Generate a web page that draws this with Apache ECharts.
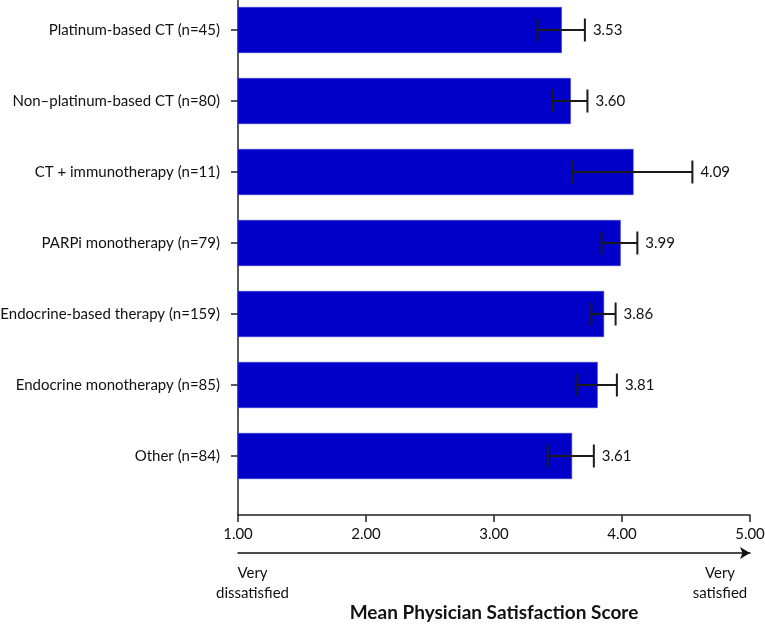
<!DOCTYPE html>
<html>
<head>
<meta charset="utf-8">
<script src="https://cdn.jsdelivr.net/npm/echarts@6/dist/echarts.min.js"></script>
<style>html,body{margin:0;padding:0;background:#fff;}#c{width:765px;height:624px;}</style>
</head>
<body>
<div id="c"></div>
<script>
var categories = ['Platinum-based CT (n=45)', 'Non\u2013platinum-based CT (n=80)', 'CT + immunotherapy (n=11)', 'PARPi monotherapy (n=79)', 'Endocrine-based therapy (n=159)', 'Endocrine monotherapy (n=85)', 'Other (n=84)'];
var means = [3.53, 3.60, 4.09, 3.99, 3.86, 3.81, 3.61];
var errLow = [3.34, 3.46, 3.61, 3.84, 3.76, 3.65, 3.42];
var errHigh = [3.71, 3.73, 4.55, 4.12, 3.95, 3.96, 3.78];
var xMin = 1, xMax = 5, xStep = 1;
var axisTitle = 'Mean Physician Satisfaction Score';
var lowEndLabel = 'Very\ndissatisfied';
var highEndLabel = 'Very\nsatisfied';

var FONT = 'Lato';
var FS = 15;
var chart = echarts.init(document.getElementById('c'), null, {renderer: 'canvas'});
var errData = categories.map(function (c, i) { return [i, errLow[i], errHigh[i], means[i]]; });

chart.setOption({
  animation: false,
  textStyle: {fontFamily: FONT},
  grid: [
    {left: 238, right: 15, top: -5.5, height: 497, outerBoundsMode: 'none', containLabel: false},
    {left: 238, right: 15, top: 0, height: 515, outerBoundsMode: 'none', containLabel: false}
  ],
  xAxis: [
    {gridIndex: 0, type: 'value', min: xMin, max: xMax, show: false},
    {gridIndex: 1, type: 'value', min: xMin, max: xMax, interval: xStep,
      axisLine: {show: true, lineStyle: {color: '#222', width: 1.5}},
      axisTick: {show: true, length: 7, lineStyle: {color: '#222', width: 1.5}},
      axisLabel: {color: '#111', fontSize: FS, fontFamily: FONT, margin: 12, formatter: function (v) { return v.toFixed(2); }},
      splitLine: {show: false},
      name: axisTitle, nameLocation: 'middle', nameGap: 88,
      nameTextStyle: {fontSize: 19, fontWeight: 'bold', color: '#111', fontFamily: FONT}
    },
    {gridIndex: 1, type: 'value', min: xMin, max: xMax, position: 'bottom', offset: 38,
      axisLine: {show: true, symbol: ['none', 'arrow'], symbolSize: [9, 10], lineStyle: {color: '#111', width: 1.5}},
      axisTick: {show: false}, axisLabel: {show: false}, splitLine: {show: false}
    }
  ],
  yAxis: [
    {gridIndex: 0, type: 'category', inverse: true, data: categories,
      axisLine: {show: false},
      axisTick: {show: true, alignWithLabel: true, length: 7, lineStyle: {color: '#222', width: 1.5}},
      axisLabel: {color: '#111', fontSize: FS, fontFamily: FONT, margin: 18}
    },
    {gridIndex: 1, type: 'value', min: 0, max: 1,
      axisLine: {show: true, lineStyle: {color: '#222', width: 1.5}},
      axisTick: {show: false}, axisLabel: {show: false}, splitLine: {show: false}
    }
  ],
  graphic: [
    {type: 'text', x: 252.5, y: 563, style: {text: lowEndLabel, align: 'center', verticalAlign: 'top', fill: '#111', font: FS + 'px ' + FONT, lineHeight: 20}},
    {type: 'text', x: 720, y: 563, style: {text: highEndLabel, align: 'center', verticalAlign: 'top', fill: '#111', font: FS + 'px ' + FONT, lineHeight: 20}}
  ],
  series: [
    {type: 'bar', xAxisIndex: 0, yAxisIndex: 0, data: means, barWidth: 46,
      itemStyle: {color: '#0000c8', borderColor: '#3a3ad6', borderWidth: 0.6}},
    {type: 'custom', xAxisIndex: 0, yAxisIndex: 0, data: errData, z: 5,
      renderItem: function (params, api) {
        var i = api.value(0);
        var lo = api.coord([api.value(1), i]);
        var hi = api.coord([api.value(2), i]);
        var h = 11.5;
        var st = {stroke: '#1a1a1a', lineWidth: 2};
        return {type: 'group', children: [
          {type: 'line', shape: {x1: lo[0], y1: lo[1], x2: hi[0], y2: hi[1]}, style: st},
          {type: 'line', shape: {x1: lo[0], y1: lo[1] - h, x2: lo[0], y2: lo[1] + h}, style: st},
          {type: 'line', shape: {x1: hi[0], y1: hi[1] - h, x2: hi[0], y2: hi[1] + h}, style: st},
          {type: 'text', x: hi[0] + 8, y: hi[1], style: {text: api.value(3).toFixed(2), fill: '#111', font: FS + 'px ' + FONT, verticalAlign: 'middle'}}
        ]};
      }
    }
  ]
});
</script>
</body>
</html>
